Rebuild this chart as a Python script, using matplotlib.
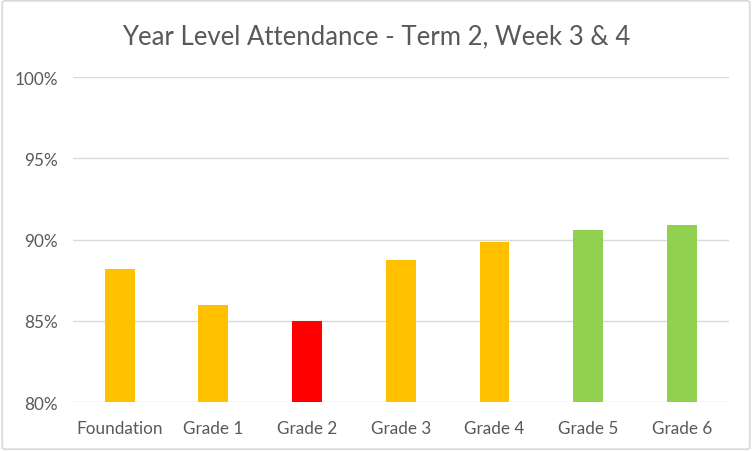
import matplotlib
matplotlib.use("Agg")
import matplotlib.pyplot as plt
from matplotlib.patches import FancyBboxPatch
from matplotlib.ticker import FuncFormatter

categories = ["Foundation", "Grade 1", "Grade 2", "Grade 3", "Grade 4", "Grade 5", "Grade 6"]
attendance = [88.2, 86.0, 85.0, 88.75, 89.85, 90.6, 90.9]
bar_colors = ["#FFC000", "#FFC000", "#FF0000", "#FFC000", "#FFC000", "#92D050", "#92D050"]
y_ticks = [80, 85, 90, 95, 100]

plt.rcParams['font.family'] = ['Lato', 'DejaVu Sans']
text_color = "#595959"

fig = plt.figure(figsize=(7.52, 4.52), dpi=100)
border = FancyBboxPatch((0.003, 0.004), 0.994, 0.992, boxstyle="round,pad=0,rounding_size=0.004",
                        transform=fig.transFigure, facecolor="none", edgecolor="#D9D9D9",
                        linewidth=1.2, zorder=10)
fig.patches.append(border)

ax = fig.add_axes([0.097, 0.1084, 0.872, 0.719])
x = range(len(categories))
ax.bar(x, [v - 80 for v in attendance], bottom=80, width=0.32, color=bar_colors, zorder=3)
ax.set_ylim(80, 100)
ax.set_xlim(-0.5, len(categories) - 0.5)
ax.set_yticks(y_ticks)
ax.yaxis.set_major_formatter(FuncFormatter(lambda v, p: f"{int(v)}%"))
ax.set_xticks(list(x))
ax.set_xticklabels(categories)
ax.grid(axis='y', color="#D9D9D9", linewidth=1.0, zorder=0)
ax.set_axisbelow(True)
for s in ax.spines.values():
    s.set_visible(False)
ax.tick_params(axis='both', length=0, colors=text_color, labelsize=12.3)
ax.tick_params(axis='x', pad=13)
ax.tick_params(axis='y', pad=11)

fig.text(0.5, 0.918, "Year Level Attendance - Term 2, Week 3 & 4", ha="center", va="center",
         fontsize=18.5, color=text_color)

fig.savefig("out.png", dpi=100)
